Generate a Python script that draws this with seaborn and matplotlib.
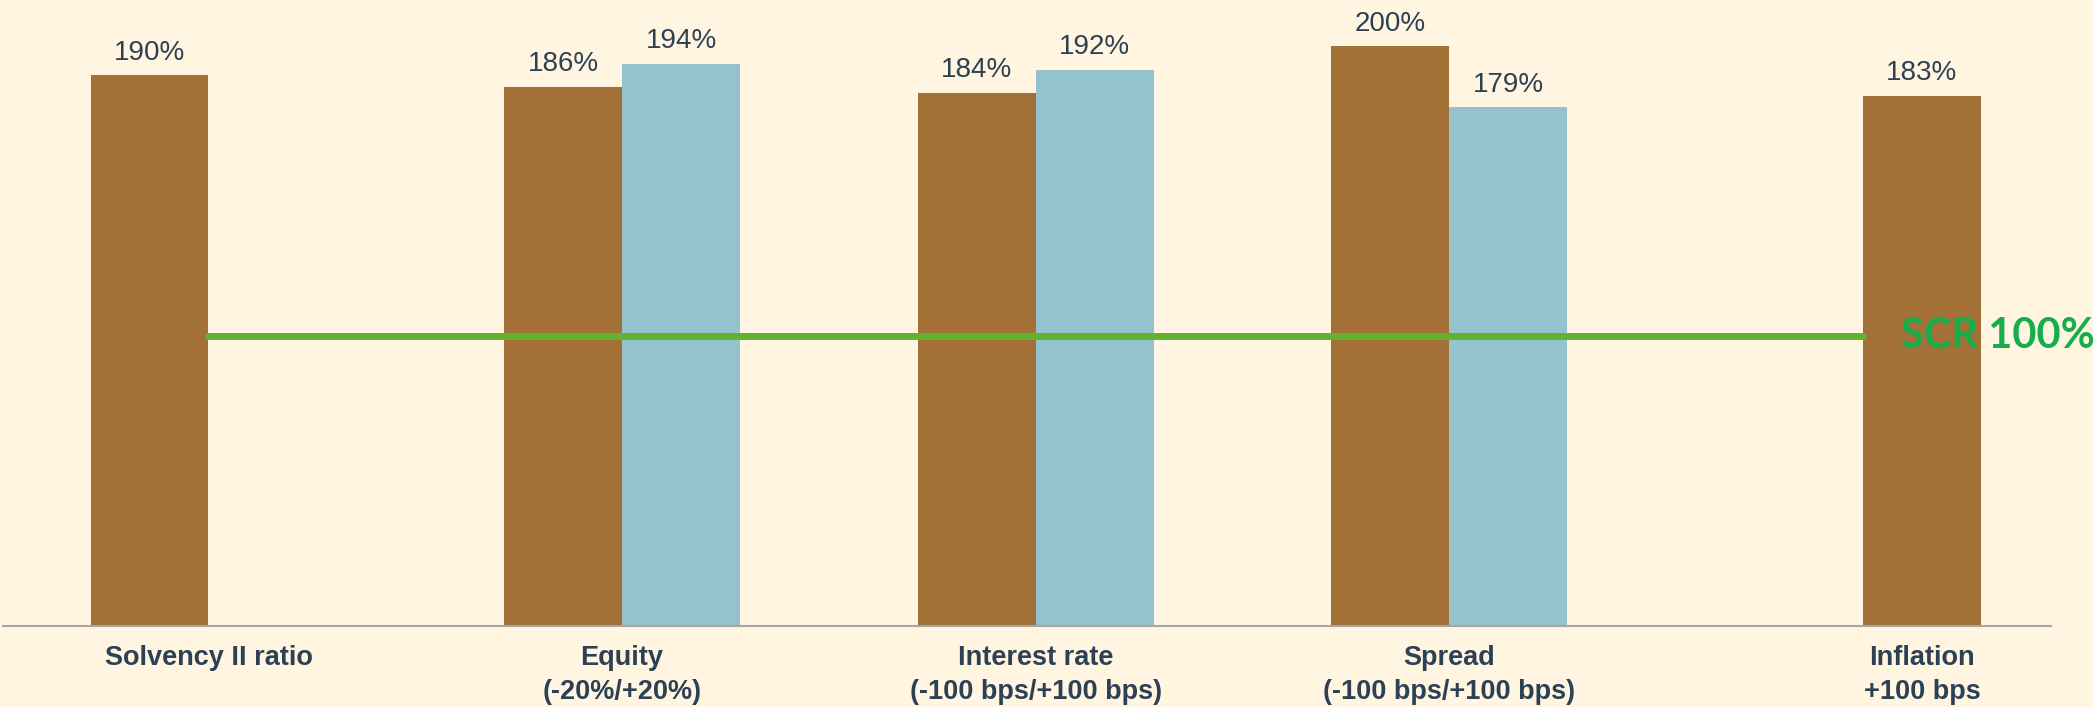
import numpy as np
import pandas as pd
import matplotlib
matplotlib.use("Agg")
import matplotlib.pyplot as plt
import seaborn as sns

# ---- data ----
categories = ["Solvency II ratio", "Equity\n(-20%/+20%)", "Interest rate\n(-100 bps/+100 bps)",
              "Spread\n(-100 bps/+100 bps)", "Inflation\n+100 bps"]
left_vals = [190, 186, 184, 200, np.nan]
right_vals = [np.nan, 194, 192, 179, 183]
scr_level = [100, 100, 100, 100, 100]
scr_label = "SCR 100%"

BG = "#FFF5E1"
BROWN = "#A37138"
BLUE = "#94C3CE"
TEXT = "#2D4154"
GREEN_LINE = "#63B22F"
GREEN_TEXT = "#14AE4B"

sns.set_theme(style="white")
plt.rcParams["font.family"] = ["Liberation Sans", "DejaVu Sans"]

rows = []
for c, lv, rv in zip(categories, left_vals, right_vals):
    if not np.isnan(lv):
        rows.append({"cat": c, "slot": "left", "val": lv})
    if not np.isnan(rv):
        rows.append({"cat": c, "slot": "right", "val": rv})
df = pd.DataFrame(rows)

fig = plt.figure(figsize=(20.93, 7.07), dpi=100, facecolor=BG)
ax = fig.add_axes([0.0014, 0.1146, 0.9786, 0.8854])
ax.set_facecolor(BG)

sns.barplot(data=df, x="cat", y="val", hue="slot", order=categories,
            hue_order=["left", "right"], palette={"left": BROWN, "right": BLUE},
            width=0.57, dodge=True, saturation=1, legend=False, ax=ax, linewidth=0)

# inflation bar is brown in the reference
for p in ax.patches:
    cx = p.get_x() + p.get_width() / 2
    if cx > 3.9:
        p.set_facecolor(BROWN)

# value labels
for p in ax.patches:
    h = p.get_height()
    if np.isnan(h) or h == 0:
        continue
    ax.annotate(f"{h:.0f}%", (p.get_x() + p.get_width() / 2, h),
                xytext=(0, 7), textcoords="offset points",
                ha="center", va="bottom", fontsize=20, color=TEXT)

# SCR line
sns.lineplot(x=np.arange(len(categories)), y=scr_level, color=GREEN_LINE,
             linewidth=5, ax=ax, solid_capstyle="round")
ax.text(4.093, 100, scr_label, color=GREEN_TEXT, fontsize=30, fontweight="bold",
        family=["Lato", "DejaVu Sans"], ha="left", va="center", clip_on=False)

ax.set_xlim(-0.497, 4.455)
ax.set_ylim(0, 216)
ax.set_xlabel("")
ax.set_ylabel("")
ax.set_yticks([])
ticks = [0, 1, 2, 3, 4 + 0.1425]
ax.set_xticks(ticks)
ax.set_xticklabels(categories, fontsize=19.5, fontweight="bold", color=TEXT,
                   family=["Liberation Sans", "DejaVu Sans"], linespacing=1.4)
ax.tick_params(axis="x", length=0, pad=14)
for s in ["top", "left", "right"]:
    ax.spines[s].set_visible(False)
ax.spines["bottom"].set_color("#A6A6A6")
ax.spines["bottom"].set_linewidth(1.5)

fig.savefig("out.png", dpi=100, facecolor=BG)
